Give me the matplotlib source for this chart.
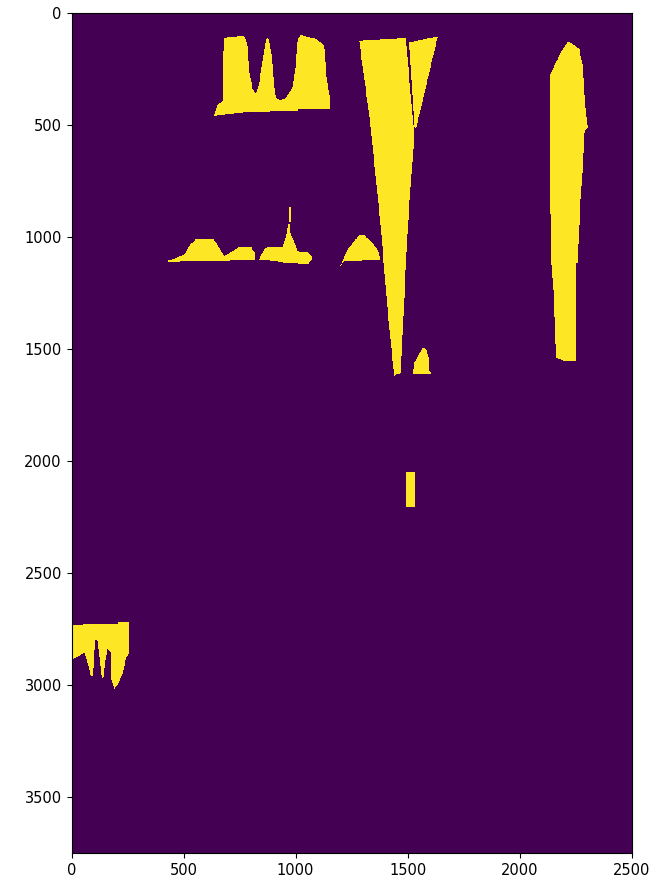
import numpy as np
import matplotlib
matplotlib.use("Agg")
import matplotlib.pyplot as plt
from matplotlib.path import Path

# size of the mask image (width, height)
img_w, img_h = 2500, 3750

# polygon outlines (x, y) in image pixel coordinates
blob_top_left = [(634, 460), (646, 418), (671, 396), (676, 120), (700, 110), (768, 108),
                 (783, 150), (790, 269), (805, 344), (820, 366), (835, 314), (857, 165),
                 (869, 113), (879, 128), (890, 195), (899, 314), (909, 381), (931, 396),
                 (954, 381), (983, 336), (998, 225), (1006, 120), (1020, 103), (1087, 120),
                 (1124, 150), (1132, 269), (1147, 373), (1147, 433), (1006, 433), (1006, 440),
                 (800, 445), (634, 462)]
big_wedge = [(1280, 128), (1488, 117), (1525, 552), (1496, 969), (1474, 1415), (1466, 1609),
             (1445, 1615), (1436, 1623), (1407, 1341), (1377, 969), (1332, 522)]
small_wedge = [(1503, 135), (1630, 109), (1533, 522), (1525, 508)]
small_bump = [(1518, 1609), (1525, 1564), (1563, 1497), (1578, 1504), (1592, 1549),
              (1592, 1601), (1602, 1609), (1602, 1614), (1518, 1614)]
dome = [(1191, 1144), (1206, 1110), (1228, 1058), (1258, 1021), (1280, 994), (1302, 996),
        (1332, 1021), (1355, 1050), (1369, 1080), (1374, 1106), (1215, 1112), (1206, 1118)]
left_bumps = [(426, 1110), (456, 1100), (501, 1080), (523, 1043), (553, 1013), (627, 1010),
              (642, 1028), (664, 1066), (679, 1088), (709, 1070), (746, 1048), (798, 1048),
              (813, 1073), (816, 1107), (426, 1114)]
spike = [(835, 1100), (857, 1058), (872, 1048), (939, 1048), (954, 998), (964, 946),
         (969, 944), (973, 984), (991, 1028), (1006, 1066), (1050, 1073), (1068, 1088),
         (1068, 1106), (1050, 1125), (1006, 1121), (946, 1118), (901, 1110), (835, 1106)]
spike_tip = [(966, 870), (973, 870), (975, 935), (968, 935)]
right_column = [(2209, 132), (2231, 143), (2261, 165), (2276, 240), (2283, 373), (2298, 515),
                (2283, 537), (2276, 701), (2265, 865), (2253, 1118), (2246, 1118),
                (2246, 1557), (2200, 1557), (2157, 1542), (2149, 1296), (2135, 1103),
                (2127, 292), (2149, 240), (2179, 180)]
small_rect = [(1490, 2050), (1530, 2050), (1530, 2205), (1490, 2205)]
bottom_left = [(0, 2732), (203, 2728), (206, 2722), (255, 2722), (255, 2858), (241, 2881),
               (226, 2948), (203, 3000), (189, 3018), (174, 2970), (171, 2851), (159, 2841),
               (150, 2880), (141, 2963), (132, 2970), (126, 2903), (115, 2807), (104, 2799),
               (99, 2874), (92, 2963), (82, 2955), (62, 2874), (55, 2858), (25, 2874),
               (0, 2888)]

polygons = [blob_top_left, big_wedge, small_wedge, small_bump, dome, left_bumps,
            spike, spike_tip, right_column, small_rect, bottom_left]

# rasterise the polygons into a 0/1 mask (every 2nd pixel is plenty)
step = 2
xs = np.arange(0, img_w, step) + step / 2
ys = np.arange(0, img_h, step) + step / 2
gx, gy = np.meshgrid(xs, ys)
pts = np.column_stack([gx.ravel(), gy.ravel()])
mask = np.zeros(gx.size, dtype=bool)
for poly in polygons:
    mask |= Path(np.array(poly, dtype=float)).contains_points(pts)
mask = mask.reshape(gx.shape).astype(float)

fig = plt.figure(figsize=(6.54, 8.82), dpi=100)
ax = fig.add_axes([0.1086, 0.0329, 0.858, 0.9524])
ax.imshow(mask, cmap="viridis", extent=(0, img_w, img_h, 0), interpolation="nearest")
ax.set_xticks(np.arange(0, 2501, 500))
ax.set_yticks(np.arange(0, 3501, 500))
ax.tick_params(labelsize=10.5)

fig.savefig("out.png", dpi=100)
